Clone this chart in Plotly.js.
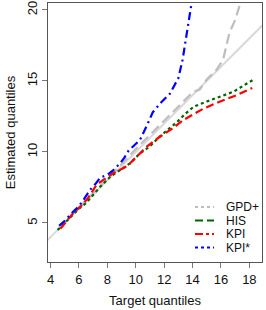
<!DOCTYPE html>
<html>
<head>
<meta charset="utf-8">
<script src="https://cdn.plot.ly/plotly-3.0.1.min.js"></script>
<style>html,body{margin:0;padding:0;background:#fff;}#chart{width:266px;height:310px;}</style>
</head>
<body>
<div id="chart"></div>
<script>
// Series names (legend order)
var seriesNames = ["GPD+", "HIS", "KPI", "KPI*"];

// Reference line y = x
var refX = [3, 20];
var refY = [3, 20];

// GPD+ (grey long dashes)
var gpdX = [4.5, 6.0, 8.0, 10.0, 12.0, 13.0, 14.0, 14.5, 15.0, 15.7, 16.15, 16.6, 17.0, 17.4];
var gpdY = [4.5, 6.1, 8.1, 10.2, 12.2, 13.2, 14.2, 14.4, 15.1, 15.8, 16.5, 18.4, 19.3, 20.6];

// HIS (green dotted)
var hisX = [4.5, 5.0, 5.5, 6.0, 6.5, 7.0, 7.5, 8.2, 8.9, 9.6, 10.3, 11.0, 11.7, 12.4, 12.9, 13.5, 14.1, 15.0, 15.9, 16.9, 17.8, 18.3];
var hisY = [4.5, 5.0, 5.5, 6.0, 6.4, 7.0, 7.55, 8.25, 8.75, 9.2, 9.9, 10.4, 11.1, 11.7, 12.1, 12.7, 13.2, 13.55, 13.9, 14.25, 14.8, 15.1];

// KPI (red dashed)
var kpiX = [4.7, 5.2, 5.6, 6.1, 6.6, 7.25, 7.8, 8.4, 9.4, 10.1, 10.8, 11.6, 12.4, 12.65, 13.35, 14.0, 14.8, 15.9, 17.1, 18.2];
var kpiY = [4.6, 5.2, 5.7, 6.15, 6.7, 7.7, 8.1, 8.5, 9.0, 9.7, 10.4, 11.0, 11.55, 11.7, 12.25, 12.6, 13.07, 13.54, 14.0, 14.5];

// KPI* (blue dash-dot)
var kpisX = [4.6, 5.0, 5.5, 6.0, 6.3, 6.8, 7.2, 7.5, 8.0, 8.4, 8.9, 9.2, 9.5, 9.9, 10.3, 10.8, 11.2, 11.8, 12.4, 13.0, 13.3, 13.6, 13.95];
var kpisY = [4.8, 5.15, 5.7, 6.2, 6.6, 7.35, 7.8, 8.2, 8.4, 8.7, 9.2, 9.6, 10.1, 10.5, 10.85, 11.9, 12.8, 13.5, 14.1, 15.2, 16.5, 18.4, 20.6];

// Tick values
var xTicks = [4, 6, 8, 10, 12, 14, 16, 18];
var yTicks = [5, 10, 15, 20];

var traces = [
  {x: refX, y: refY, mode: "lines", line: {color: "#d9d9d9", width: 2}, showlegend: false, hoverinfo: "skip"},
  {x: gpdX, y: gpdY, mode: "lines", line: {color: "#bebebe", width: 2.2, dash: "10px,5px"}, showlegend: false},
  {x: hisX, y: hisY, mode: "lines", line: {color: "#006400", width: 2.2, dash: "3px,3px"}, showlegend: false},
  {x: kpiX, y: kpiY, mode: "lines", line: {color: "#ff0000", width: 2.2, dash: "8px,4px"}, showlegend: false},
  {x: kpisX, y: kpisY, mode: "lines", line: {color: "#0000ff", width: 2.2, dash: "8px,4px,2px,4px"}, showlegend: false}
];

// Manual legend (R-style, no box)
var legColors = ["#bebebe", "#006400", "#ff0000", "#0000ff"];
var legDash = ["3px,3px", "8px,4px", "8px,3px,3px,3px", "3px,3px"];
var L = 48, T = 3, W = 214, H = 259;
function px2x(p){ return (p - L) / W; }
function py2y(p){ return (T + H - p) / H; }
var legRowsPx = [207, 220.5, 234, 247.5];
var shapes = [], annotations = [];
for (var i = 0; i < seriesNames.length; i++) {
  shapes.push({type: "line", xref: "paper", yref: "paper",
    x0: px2x(195), x1: px2x(214), y0: py2y(legRowsPx[i]), y1: py2y(legRowsPx[i]),
    line: {color: legColors[i], width: 2.2, dash: legDash[i]}});
  annotations.push({xref: "paper", yref: "paper", x: px2x(224), y: py2y(legRowsPx[i]),
    xanchor: "left", yanchor: "middle", showarrow: false, text: seriesNames[i],
    font: {family: "Liberation Sans, Arial, sans-serif", size: 12, color: "#111"}});
}

var axisFont = {family: "Liberation Sans, Arial, sans-serif", size: 13, color: "#111"};
var layout = {
  width: 266, height: 310,
  margin: {l: L, r: 266 - L - W, t: T, b: 310 - T - H},
  paper_bgcolor: "#fff", plot_bgcolor: "#fff",
  showlegend: false,
  font: axisFont,
  xaxis: {
    range: [3.82, 18.89], tickvals: xTicks, ticktext: xTicks.map(String),
    showgrid: false, zeroline: false, showline: true, mirror: true,
    linecolor: "#555", linewidth: 1, ticks: "outside", ticklen: 5, tickcolor: "#777",
    tickfont: axisFont,
    title: {text: "Target quantiles", font: axisFont, standoff: 10}
  },
  yaxis: {
    range: [2.25, 20.49], tickvals: yTicks, ticktext: yTicks.map(String),
    tickangle: -90,
    showgrid: false, zeroline: false, showline: true, mirror: true,
    linecolor: "#555", linewidth: 1, ticks: "outside", ticklen: 5, tickcolor: "#777",
    tickfont: axisFont,
    title: {text: "Estimated quantiles", font: axisFont, standoff: 6}
  },
  shapes: shapes,
  annotations: annotations
};

Plotly.newPlot("chart", traces, layout, {staticPlot: true, displayModeBar: false});
</script>
</body>
</html>
